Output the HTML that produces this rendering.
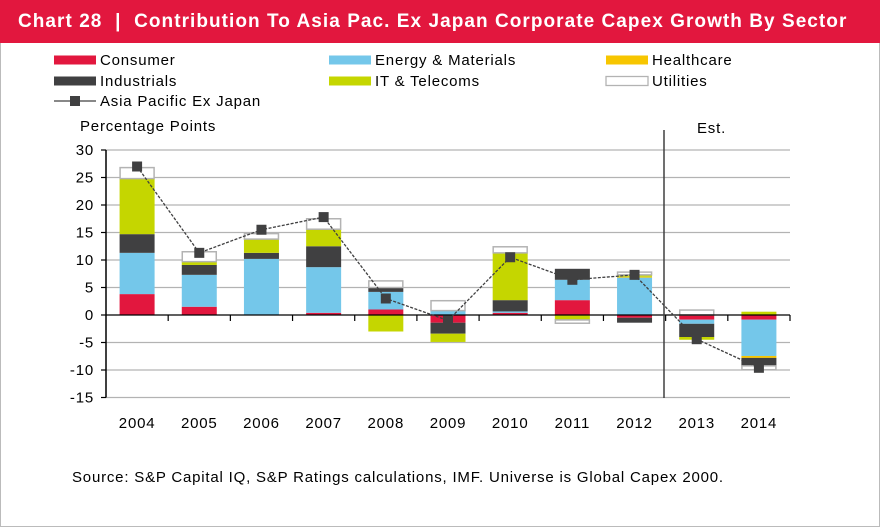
<!DOCTYPE html>
<html><head><meta charset="utf-8"><style>
body{margin:0;width:880px;height:528px;overflow:hidden;background:#fff;font-family:"Liberation Sans",sans-serif}
#frame{position:absolute;left:0;top:0;width:878px;height:526px;border:1px solid #bbb;border-top:none}
#hdr{position:absolute;left:0;top:0;width:880px;height:43px;background:#e2173e;color:#fff;font-weight:bold;font-size:19px;line-height:43px;padding-left:18px;box-sizing:border-box;letter-spacing:1.05px;white-space:nowrap}
svg{position:absolute;left:0;top:0}
text{font-family:"Liberation Sans",sans-serif;font-size:15px;letter-spacing:0.8px;fill:#000}
</style></head><body>
<div id="frame"></div>
<div id="hdr">Chart 28 &nbsp;|&nbsp; Contribution To Asia Pac. Ex Japan Corporate Capex Growth By Sector</div>
<svg id="c" width="880" height="528"></svg>
<script>
const years=["2004","2005","2006","2007","2008","2009","2010","2011","2012","2013","2014"];
const consumer=[3.8,1.5,0,0.4,1.0,-1.4,0.4,2.7,-0.5,-0.85,-0.85];
const energy=[7.5,5.8,10.2,8.3,3.2,0.8,0.25,3.7,6.8,-0.75,-6.6];
const healthcare=[0,0,0,0,0,0,0,0,0.15,0,-0.35];
const industrials=[3.4,1.8,1.1,3.8,0.8,-2.0,2.05,2.0,-0.9,-2.4,-1.45];
const itTel=[10.1,0.6,2.5,3.1,-3.0,-1.5,8.6,-0.9,0.35,-0.5,0.6];
const utilities=[2.0,1.8,1.0,1.9,1.2,1.8,1.1,-0.6,0.5,0.9,-0.7];
const total=[27,11.3,15.5,17.8,3.0,-1.0,10.5,6.4,7.3,-4.4,-9.6];
const yTicks=[30,25,20,15,10,5,0,-5,-10,-15];
const series=[
 {name:"consumer",v:consumer,c:"#e2173e"},
 {name:"energy",v:energy,c:"#74c7ea"},
 {name:"healthcare",v:healthcare,c:"#f7c600"},
 {name:"industrials",v:industrials,c:"#404041"},
 {name:"it-telecoms",v:itTel,c:"#c5d600"},
 {name:"utilities",v:utilities,c:"#fff",stroke:"#b3b3b3"}];
const svg=document.getElementById('c');const NS="http://www.w3.org/2000/svg";
function el(t,a,p){const e=document.createElementNS(NS,t);for(const k in a)e.setAttribute(k,a[k]);(p||svg).appendChild(e);return e;}
const x0=106,x1=790,y0=315,ppu=5.5;
const bw=(x1-x0)/years.length;
const Y=v=>y0-v*ppu;const X=i=>x0+bw*(i+0.5);
yTicks.forEach(t=>{
 if(t!==0){const g=el('line',{x1:x0,x2:x1,y1:Y(t),y2:Y(t),stroke:'#b3b3b3','stroke-width':1.3});
 }
 el('line',{x1:x0-5,x2:x0,y1:Y(t),y2:Y(t),stroke:'#000','stroke-width':1.2});
 const tx=el('text',{x:94,y:Y(t)+5,'text-anchor':'end'});tx.textContent=t;
 
});
years.forEach((yr,i)=>{
 let pos=0,neg=0;
 series.forEach(s=>{
  const v=s.v[i];if(!v)return;
  let a,b;if(v>0){a=pos;b=pos+v;pos=b;}else{a=neg;b=neg+v;neg=b;}
  const top=Y(Math.max(a,b)),h=Math.abs(b-a)*ppu;
  const r=el('rect',{x:X(i)-17.5,y:top,width:35,height:h,fill:s.c});
  if(s.stroke){r.setAttribute('stroke',s.stroke);r.setAttribute('stroke-width',1.5);r.setAttribute('x',X(i)-17);r.setAttribute('width',34);}
  
  
 });
 const lb=el('text',{x:X(i),y:428,'text-anchor':'middle'});lb.textContent=yr;
 
 el('line',{x1:x0+bw*(i+1),x2:x0+bw*(i+1),y1:y0,y2:y0+6,stroke:'#000','stroke-width':1.2});
});
el('line',{x1:x0,x2:x1,y1:y0,y2:y0,stroke:'#000','stroke-width':1.3});
el('line',{x1:x0,x2:x0,y1:Y(30),y2:Y(-15),stroke:'#000','stroke-width':1.5});
const dv=el('line',{x1:664,x2:664,y1:130,y2:398,stroke:'#404041','stroke-width':1.5});

const est=el('text',{x:697,y:133});est.textContent="Est.";

const pl=el('polyline',{points:total.map((v,i)=>X(i)+','+Y(v)).join(' '),fill:'none',stroke:'#404041','stroke-width':1.3,'stroke-dasharray':'3,1.5'});

total.forEach((v,i)=>{const m=el('rect',{x:X(i)-5,y:Y(v)-5,width:10,height:10,fill:'#404041'});
 });
const leg=[["Consumer","#e2173e",54,60],["Industrials","#404041",54,81],["Energy & Materials","#74c7ea",329,60],["IT & Telecoms","#c5d600",329,81],["Healthcare","#f7c600",606,60],["Utilities","#fff",606,81]];
leg.forEach(l=>{const g=el('g',{});
 
 const r=el('rect',{x:l[2],y:l[3]-4.5,width:42,height:9,fill:l[1]},g);
 if(l[0]==="Utilities"){r.setAttribute('stroke','#b3b3b3');r.setAttribute('stroke-width',1.3);}
 const t=el('text',{x:l[2]+46,y:l[3]+5},g);t.textContent=l[0];});
const lg=el('g',{});
el('line',{x1:54,x2:96,y1:101,y2:101,stroke:'#404041','stroke-width':1.2},lg);
el('rect',{x:70,y:96,width:10,height:10,fill:'#404041'},lg);
const lt=el('text',{x:100,y:106},lg);lt.textContent="Asia Pacific Ex Japan";
const yt=el('text',{x:80,y:131});yt.textContent="Percentage Points";

const src=el('text',{x:72,y:482});src.textContent="Source: S&P Capital IQ, S&P Ratings calculations, IMF. Universe is Global Capex 2000.";

</script>
</body></html>
